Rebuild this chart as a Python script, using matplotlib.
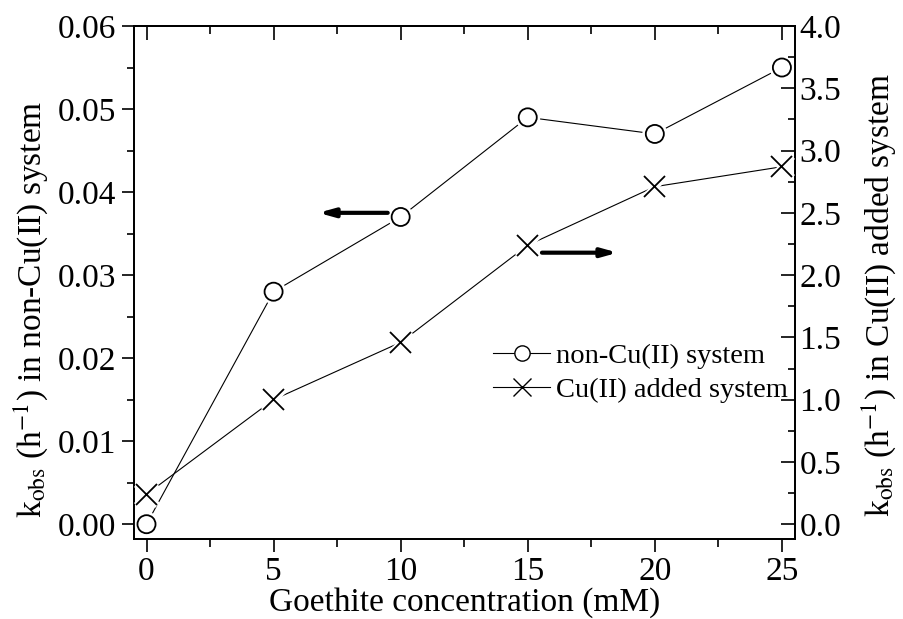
import numpy as np
import matplotlib
matplotlib.use('Agg')
import matplotlib.pyplot as plt
import matplotlib.patheffects as pe
from matplotlib.ticker import MultipleLocator, FormatStrFormatter

# Veriler
goethite = [0, 5, 10, 15, 20, 25]
k_non_cu = [0.000, 0.028, 0.037, 0.049, 0.047, 0.055]
k_cu_added = [0.24, 1.00, 1.46, 2.24, 2.71, 2.87]

plt.rcParams['font.family'] = ['Liberation Serif', 'DejaVu Serif']
plt.rcParams['mathtext.fontset'] = 'stix'

fig = plt.figure(figsize=(9.04, 6.19), dpi=100)
ax = fig.add_axes([0.148, 0.129, 0.731, 0.829])
ax2 = ax.twinx()

halo = [pe.withStroke(linewidth=5, foreground='white')]

ax.plot(goethite, k_non_cu, color='black', lw=0.8, zorder=1)
ax.plot(goethite, k_non_cu, ls='none', marker='o', ms=13, mfc='white',
        mec='black', mew=1.3, zorder=3, path_effects=halo)
ax2.plot(goethite, k_cu_added, color='black', lw=0.8, zorder=1)
ax2.plot(goethite, k_cu_added, ls='none', marker='x', ms=15,
         mec='black', mew=1.3, zorder=3, path_effects=halo)

ax.set_xlim(-0.5, 25.5)
ax.set_ylim(-0.0018, 0.06)
ax2.set_ylim(-0.12, 4.0)

ax.xaxis.set_major_locator(MultipleLocator(5))
ax.xaxis.set_minor_locator(MultipleLocator(2.5))
ax.yaxis.set_major_locator(MultipleLocator(0.01))
ax.yaxis.set_minor_locator(MultipleLocator(0.005))
ax.yaxis.set_major_formatter(FormatStrFormatter('%.2f'))
ax2.yaxis.set_major_locator(MultipleLocator(0.5))
ax2.yaxis.set_minor_locator(MultipleLocator(0.25))
ax2.yaxis.set_major_formatter(FormatStrFormatter('%.1f'))

ax.tick_params(axis='both', which='major', direction='out', length=9, width=1.2,
               labelsize=24, right=False, top=False)
ax.tick_params(axis='x', which='minor', direction='out', length=6, width=1.2, top=False)
ax.tick_params(axis='y', which='minor', direction='out', length=5, width=1.2, right=False)
ax2.tick_params(axis='y', which='major', direction='in', length=10, width=1.2, labelsize=24)
ax2.tick_params(axis='y', which='minor', direction='in', length=5, width=1.2)

top = ax.secondary_xaxis('top')
top.xaxis.set_major_locator(MultipleLocator(5))
top.xaxis.set_minor_locator(MultipleLocator(2.5))
top.tick_params(which='major', direction='in', length=10, width=1.2, labeltop=False)
top.tick_params(which='minor', direction='in', length=6, width=1.2)

for a in (ax, ax2):
    for s in a.spines.values():
        s.set_linewidth(1.3)
top.spines['top'].set_linewidth(1.3)

ax.set_xlabel('Goethite concentration (mM)', fontsize=24, labelpad=0)
fig.text(0.034, 1 - 309 / 619, r'k$_{\mathrm{obs}}$ (h$^{\mathrm{-1}}$) in non-Cu(II) system',
         fontsize=24, rotation=90, ha='center', va='center')
fig.text(0.972, 1 - 295 / 619, r'k$_{\mathrm{obs}}$ (h$^{\mathrm{-1}}$) in Cu(II) added system',
         fontsize=24, rotation=90, ha='center', va='center')

# Oklar
ax.annotate('', xy=(6.65, 0.0375), xytext=(9.6, 0.0375),
            arrowprops=dict(arrowstyle='-|>,head_length=0.9,head_width=0.25', lw=3, color='black'))
ax2.annotate('', xy=(18.65, 2.18), xytext=(15.45, 2.18),
             arrowprops=dict(arrowstyle='-|>,head_length=0.9,head_width=0.25', lw=3, color='black'))

# Lejant
h1, = ax.plot([], [], color='black', lw=0.8, marker='o', ms=11, mfc='white', mec='black')
h2, = ax.plot([], [], color='black', lw=0.8, marker='x', ms=13, mec='black')
ax2.legend([h1, h2], ['non-Cu(II) system', 'Cu(II) added system'], loc='upper left',
           bbox_to_anchor=(0.527, 0.405), frameon=False, fontsize=20.5, handlelength=2.0,
           handletextpad=0.2, borderaxespad=0, labelspacing=0.3)

plt.savefig('out.png', dpi=100)
